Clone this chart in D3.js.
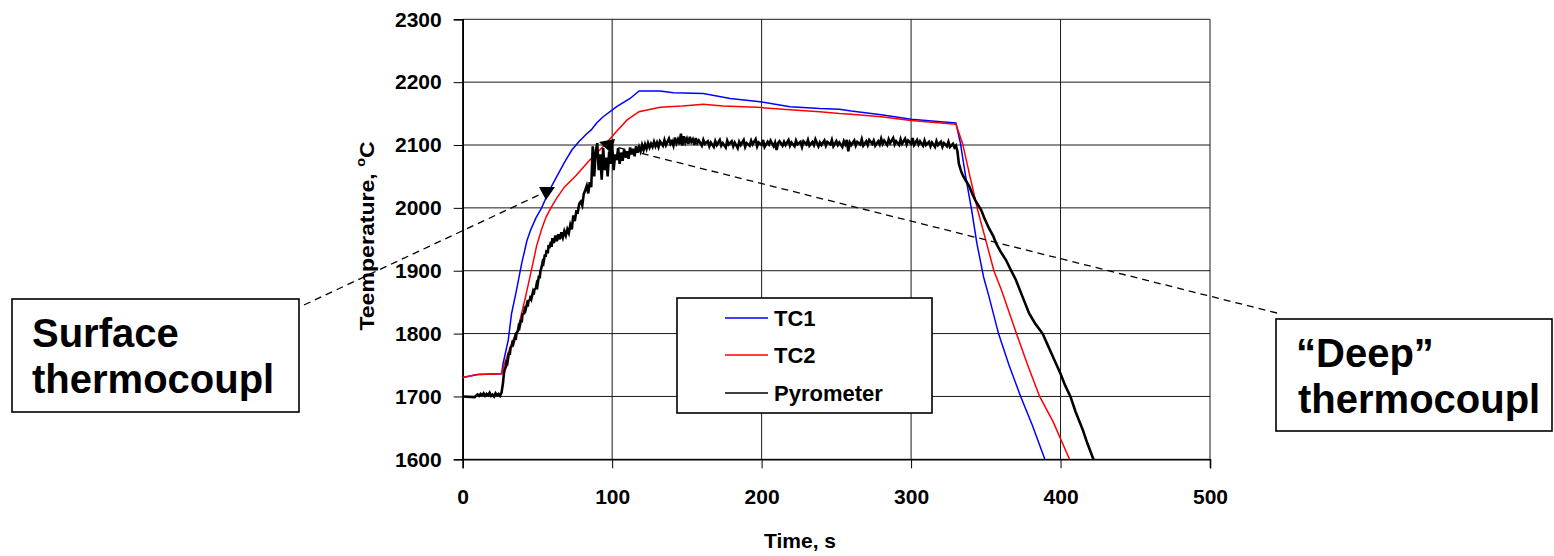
<!DOCTYPE html>
<html>
<head>
<meta charset="utf-8">
<script src="https://cdn.jsdelivr.net/npm/d3@7/dist/d3.min.js"></script>
<style>
  html, body { margin: 0; padding: 0; background: #fff; }
  svg { display: block; }
  text { font-family: "Liberation Sans", Arial, sans-serif; font-weight: bold; fill: #000; }
</style>
</head>
<body>
<svg id="chart" width="1554" height="556"></svg>
<script>
// ---------------- data ----------------
const xTicks = [0, 100, 200, 300, 400, 500];
const yTicks = [1600, 1700, 1800, 1900, 2000, 2100, 2200, 2300];
const seriesNames = ["TC1", "TC2", "Pyrometer"];
const seriesColors = ["#0000ff", "#ff0000", "#000000"];
const xTitle = "Time, s";
const yTitle = "Teemperature, ";
const annotations = ["Surface", "thermocoupl", "\u201cDeep\u201d", "thermocoupl"];

// TC1 [time s, temperature C]
const tc1 = [
  [0,1730],[10,1735],[26,1736],[27,1752],[30.5,1790],[32.7,1832],[36,1869],[39.5,1912],
  [43,1948],[45.5,1965],[49,1984],[52.8,2000],[58,2028],[63,2050],[68,2072],[73,2092],
  [78,2106],[83,2118],[86,2124],[89.6,2135],[94,2145],[103,2161],[112,2174],[118,2186],
  [132,2186],[141,2183],[161,2182],[179,2174],[199,2169],[219,2161],[239,2158],[252,2157],
  [260,2154],[280,2148],[300,2141],[320,2137],[330,2135],[333,2103],[336.5,2050],
  [340.5,1997],[344,1944],[348.5,1890],[352,1860],[358.5,1800],[365.5,1750],[373.3,1700],
  [381,1655],[389.5,1600]
];
// TC2
const tc2 = [
  [0,1730],[10,1735],[26,1736],[28,1752],[32,1780],[37,1808],[42,1858],[47,1912],
  [49.5,1940],[52.8,1966],[55.7,1985],[59,2000],[63,2016],[68,2033],[76,2052],[85,2076],
  [95,2100],[103,2122],[110,2140],[118,2153],[132,2160],[147,2162],[161,2165],[174,2162],
  [197,2160],[219,2156],[239,2153],[252,2150],[260,2149],[280,2145],[300,2139],[320,2135],
  [330,2133],[334.4,2103],[339.4,2050],[344.5,1997],[350.5,1944],[355.4,1900],[360.5,1869],
  [370.5,1800],[378,1750],[386,1700],[395,1660],[406,1600]
];
// Pyrometer
const pyro = [
  [0,1700],[8,1699],[10,1703],[11,1701],[12,1704],[13,1702],[14,1705],[15,1701],[16,1704],
  [17,1702],[18,1706],[19,1701],[20,1703],[21,1700],[22,1705],[23,1702],[24,1704],[25,1701],
  [26,1706],[27,1722],[27.5,1735],[28,1742],[29,1748],[29.5,1758],[30,1755],[31,1770],
  [31.5,1766],[32,1777],[33,1781],[33.5,1789],[34,1785],[35,1794],[35.5,1790],[36,1801],
  [37,1804],[37.5,1812],[38,1810],[39,1822],[39.5,1818],[40,1831],[41,1832],[41.5,1839],
  [42,1837],[43,1847],[43.5,1843],[44,1852],[45,1854],[45.5,1860],[46,1856],[47,1866],
  [47.5,1862],[48,1870],[49,1872],[49.5,1879],[50,1876],[51,1892],[51.5,1888],[52,1899],
  [53,1908],[53.5,1914],[54,1912],[55,1926],[55.5,1922],[56,1931],[57,1930],[57.5,1941],
  [58,1936],[59,1946],[59.5,1938],[60,1952],[61,1944],[62,1956],[63,1947],[64,1958],
  [65,1950],[66,1961],[67,1953],[68,1963],[69,1956],[70,1966],[71,1960],[72,1973],
  [73,1966],[74,1988],[75,1979],[76,1994],[77,1993],[78,2007],[79,2010],[80,2004],
  [81,2022],[82,2028],[83,2035],[84,2023],[85,2041],[86,2033],[87,2098],[88,2050],
  [89,2090],[90,2103],[91,2060],[92,2085],[93,2045],[94,2095],[95,2060],[96,2080],[97,2050],
  [98,2090],[99,2070],[100,2100],[101,2060],[102,2085],[103,2076],[104,2095],[105,2070],
  [106,2088],[107,2075],[108,2093],[109,2080],[110,2090],[111,2078],[112,2096],[113,2085],
  [114,2094],[115,2082],[116,2098],[117,2088],[118,2097],[119,2090],[120,2100],[121,2092],
  [122,2101],[123,2094],[124,2103],[125,2096],[126,2102],[127,2097],[128,2105],[129,2098],
  [130,2104],[131,2097],[132,2106],[134,2099],[135,2108],[136,2100],[138,2110],[139,2102],
  [140,2106],[141,2099],[142,2112],[143,2103],[144,2109],[145,2101],[146,2118],[147,2099],
  [148,2114],[149,2104],[150,2110],[151,2102],[152,2113],[153,2105],[154,2109],[155,2100],
  [156,2111],[157,2103],[158,2107],[160,2099],[161,2108],[162,2102],[164,2106],[165,2098],
  [166,2104],[168,2097],[169,2106],[170,2100],[172,2108],[173,2099],[174,2103],[176,2096],
  [177,2107],[178,2101],[180,2106],[181,2098],[182,2104],[184,2095],[185,2105],[186,2100],
  [188,2108],[189,2097],[190,2103],[192,2099],[193,2107],[194,2101],[196,2109],[197,2098],
  [198,2104],[200,2100],[201,2108],[202,2097],[204,2105],[205,2101],[206,2107],[208,2098],
  [209,2104],[210,2092],[211,2103],[212,2106],[214,2099],[215,2105],[216,2100],[218,2108],
  [219,2099],[220,2104],[222,2098],[223,2107],[224,2101],[226,2105],[227,2097],[228,2106],
  [230,2101],[231,2108],[232,2099],[234,2105],[235,2100],[236,2109],[238,2098],[239,2104],
  [240,2100],[242,2107],[243,2099],[244,2105],[246,2101],[247,2108],[248,2098],[250,2106],
  [251,2100],[252,2104],[254,2097],[255,2106],[256,2101],[257,2108],[258,2090],[259,2104],
  [260,2100],[262,2107],[263,2099],[264,2105],[266,2101],[267,2109],[268,2099],[270,2106],
  [271,2100],[272,2108],[274,2102],[275,2107],[276,2099],[278,2106],[279,2101],[280,2110],
  [281,2102],[282,2107],[284,2100],[285,2109],[286,2103],[288,2111],[289,2101],[290,2106],
  [292,2100],[293,2109],[294,2102],[296,2110],[297,2101],[298,2107],[300,2102],[301,2111],
  [302,2100],[304,2108],[305,2101],[306,2106],[308,2099],[309,2107],[310,2100],[312,2105],
  [313,2098],[314,2104],[316,2097],[317,2106],[318,2100],[320,2105],[321,2097],[322,2103],
  [324,2098],[325,2105],[326,2097],[328,2102],[329,2096],[330,2099],[331,2090],[332,2070],
  [333,2062],[334,2055],[335,2050],[337,2042],[339,2034],[341,2022],[343,2012],[347,1996],
  [349,1984],[352,1968],[355,1955],[357,1943],[360,1930],[363.5,1917],[367,1900],[370,1886],
  [374,1862],[379,1832],[383,1816],[388,1800],[391,1784],[394,1768],[400,1736],[403,1718],
  [406.6,1700],[410,1676],[415,1646],[418,1625],[422,1600]
];
const seriesData = [tc1, tc2, pyro];

// ---------------- layout ----------------
const svg = d3.select("#chart");
const x = d3.scaleLinear().domain([0, 500]).range([462.7, 1210]);
const y = d3.scaleLinear().domain([1600, 2300]).range([459.3, 19.3]);

svg.append("defs").append("clipPath").attr("id", "plotClip")
  .append("rect").attr("x", x(0)).attr("y", y(2300)).attr("width", x(500) - x(0)).attr("height", y(1600) - y(2300));

// grid
const grid = svg.append("g").attr("stroke", "#1a1a1a").attr("stroke-width", 1);
grid.selectAll(".gy").data(yTicks).join("line")
  .attr("x1", x(0)).attr("x2", x(500)).attr("y1", d => y(d)).attr("y2", d => y(d));
grid.selectAll(".gx").data(xTicks).join("line")
  .attr("y1", y(1600)).attr("y2", y(2300)).attr("x1", d => x(d)).attr("x2", d => x(d));

// axes
const yAxis = d3.axisLeft(y).tickValues(yTicks).tickSize(9).tickPadding(12).tickFormat(d3.format("d"));
const gy = svg.append("g").attr("transform", `translate(${x(0)},0)`).call(yAxis);
const xAxis = d3.axisBottom(x).tickValues(xTicks).tickSize(9).tickPadding(21).tickFormat(d3.format("d"));
const gx = svg.append("g").attr("transform", `translate(0,${y(1600)})`).call(xAxis);
[gx, gy].forEach(g => {
  g.select(".domain").attr("stroke", "#000").attr("stroke-width", 1.6);
  g.selectAll(".tick line").attr("stroke", "#000").attr("stroke-width", 1);
  g.selectAll(".tick text").attr("font-size", 21).attr("font-family", '"Liberation Sans", Arial, sans-serif').attr("font-weight", "bold").attr("fill", "#000");
});

// axis titles
svg.append("text").attr("x", 800).attr("y", 548).attr("text-anchor", "middle").attr("font-size", 21).text(xTitle);
const yt = svg.append("text").attr("transform", "translate(374,236) rotate(-90) scale(1.1,1)").attr("text-anchor", "middle").attr("font-size", 21);
yt.append("tspan").text(yTitle);
yt.append("tspan").attr("font-size", 13).attr("dy", -9).text("o");
yt.append("tspan").attr("dy", 9).text("C");

// series
const line = d3.line().x(d => x(d[0])).y(d => y(d[1]));
const plot = svg.append("g").attr("clip-path", "url(#plotClip)");
const widths = [1.5, 1.5, 2.6];
[0, 1, 2].forEach(i => {
  plot.append("path").datum(seriesData[i]).attr("fill", "none")
    .attr("stroke", seriesColors[i]).attr("stroke-width", widths[i])
    .attr("stroke-linejoin", "miter").attr("d", line);
});

// legend
const lg = svg.append("g");
lg.append("rect").attr("x", 677).attr("y", 298).attr("width", 255).attr("height", 115)
  .attr("fill", "#fff").attr("stroke", "#000").attr("stroke-width", 1.6);
const rowsY = [318, 355, 393];
seriesNames.forEach((n, i) => {
  lg.append("line").attr("x1", 725).attr("x2", 768).attr("y1", rowsY[i]).attr("y2", rowsY[i])
    .attr("stroke", seriesColors[i]).attr("stroke-width", 1.5);
  lg.append("text").attr("x", 774).attr("y", rowsY[i] + 8).attr("font-size", 22).text(n);
});

// annotation dashed leaders and arrowheads
const ann = svg.append("g");
ann.append("line").attr("x1", 304).attr("y1", 305).attr("x2", 541).attr("y2", 194)
  .attr("stroke", "#000").attr("stroke-width", 1.3).attr("stroke-dasharray", "7,5");
ann.append("path").attr("d", "M539,187 L555,187 L546,200 Z").attr("fill", "#000");
ann.append("line").attr("x1", 1277).attr("y1", 313).attr("x2", 612).attr("y2", 146)
  .attr("stroke", "#000").attr("stroke-width", 1.3).attr("stroke-dasharray", "7,5");
ann.append("path").attr("d", "M599,142 L615,139 L611,153 Z").attr("fill", "#000");

// annotation boxes
ann.append("rect").attr("x", 12).attr("y", 299).attr("width", 287).attr("height", 113)
  .attr("fill", "#fff").attr("stroke", "#000").attr("stroke-width", 1.6);
ann.append("text").attr("x", 32).attr("y", 347).attr("font-size", 40).text(annotations[0]);
ann.append("text").attr("x", 32).attr("y", 393).attr("font-size", 40).text(annotations[1]);
ann.append("rect").attr("x", 1276).attr("y", 319).attr("width", 276).attr("height", 112)
  .attr("fill", "#fff").attr("stroke", "#000").attr("stroke-width", 1.6);
ann.append("text").attr("x", 1296).attr("y", 367).attr("font-size", 40).text(annotations[2]);
ann.append("text").attr("x", 1298).attr("y", 413).attr("font-size", 40).text(annotations[3]);
</script>
</body>
</html>
